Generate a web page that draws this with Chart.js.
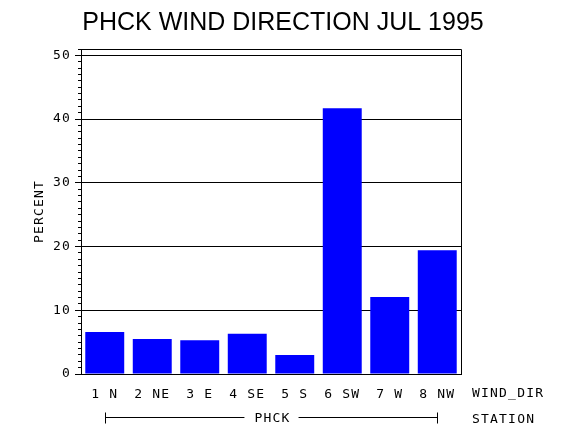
<!DOCTYPE html>
<html>
<head>
<meta charset="utf-8">
<script src="https://cdn.jsdelivr.net/npm/chart.js@4.4.1/dist/chart.umd.min.js"></script>
<style>
  body { margin: 0; background: #fff; }
</style>
</head>
<body>
<canvas id="windChart" width="570" height="430"></canvas>
<script>
const categories = ["1 N", "2 NE", "3 E", "4 SE", "5 S", "6 SW", "7 W", "8 NW"];
const percent = [6.6, 5.5, 5.3, 6.3, 3.0, 41.7, 12.1, 19.4];
const yMin = 0;
const yMax = 51;
const yMajorStep = 10;
const yMinorStep = 1;
const station = "PHCK";
const title = "PHCK WIND DIRECTION JUL 1995";

const mono = "'DejaVu Sans Mono', monospace";
const monoSize = 13;
Chart.defaults.color = "#000";

// stretch the plotter-looking text a bit
const spacing = {
  id: "spacing",
  beforeDraw(chart) {
    chart.ctx.letterSpacing = "1.2px";
  },
};

const decor = {
  id: "decor",
  afterDraw(chart) {
    const ctx = chart.ctx;
    const a = chart.chartArea;
    const x = chart.scales.x;
    ctx.save();
    ctx.strokeStyle = "#000";
    ctx.lineWidth = 1;
    ctx.beginPath();
    ctx.moveTo(a.left, a.top + 0.5);
    ctx.lineTo(a.right + 0.5, a.top + 0.5);
    ctx.lineTo(a.right + 0.5, a.bottom);
    ctx.stroke();

    ctx.fillStyle = "#000";
    ctx.font = monoSize + "px " + mono;
    ctx.letterSpacing = "1.2px";
    ctx.textBaseline = "middle";
    ctx.textAlign = "left";
    ctx.fillText("WIND_DIR", a.right + 11, a.bottom + 20);
    ctx.fillText("STATION", a.right + 11, a.bottom + 46);

    // station bracket under the categories
    const x1 = Math.round(x.getPixelForValue(0)) + 0.5;
    const x2 = Math.round(x.getPixelForValue(categories.length - 1)) + 0.5;
    const yb = a.bottom + 43.5;
    const mid = (x1 + x2) / 2;
    const half = ctx.measureText(station).width / 2;
    ctx.textAlign = "center";
    ctx.fillText(station, mid + 1, yb + 1);
    ctx.beginPath();
    ctx.moveTo(x1, yb);
    ctx.lineTo(mid - half - 9, yb);
    ctx.moveTo(mid + half + 9, yb);
    ctx.lineTo(x2, yb);
    ctx.moveTo(x1, yb - 5);
    ctx.lineTo(x1, yb + 6);
    ctx.moveTo(x2, yb - 5);
    ctx.lineTo(x2, yb + 6);
    ctx.stroke();

    ctx.letterSpacing = "0px";
    ctx.font = "25px 'Liberation Sans', Arial, sans-serif";
    ctx.textBaseline = "alphabetic";
    ctx.textAlign = "center";
    ctx.fillText(title, 283, 30);
    ctx.restore();
  },
};

new Chart(document.getElementById("windChart").getContext("2d"), {
  type: "bar",
  data: {
    labels: categories,
    datasets: [
      {
        label: "PERCENT",
        data: percent,
        backgroundColor: "#0000ff",
        borderWidth: 0,
        barPercentage: 0.82,
        categoryPercentage: 1,
      },
    ],
  },
  options: {
    responsive: false,
    animation: false,
    layout: {
      padding: { left: 0, right: 109, top: 49, bottom: 0 },
    },
    plugins: {
      legend: { display: false },
      title: { display: false },
      tooltip: { enabled: false },
    },
    scales: {
      x: {
        grid: { display: false, drawTicks: false },
        border: { color: "#000", width: 1 },
        ticks: { font: { family: mono, size: monoSize }, padding: 13, maxRotation: 0, autoSkip: false },
        afterFit(s) { s.height = 56; },
      },
      y: {
        position: "left",
        weight: 1,
        z: 1,
        min: yMin,
        max: yMax,
        grid: { color: "#000", lineWidth: 1, tickLength: 6, tickColor: "#000" },
        border: { color: "#000", width: 1 },
        ticks: { stepSize: yMajorStep, includeBounds: false, padding: 4, font: { family: mono, size: monoSize } },
        title: { display: true, text: "PERCENT", font: { family: mono, size: monoSize }, padding: { top: 32, bottom: 0 } },
        afterFit(s) { s.width = 81; },
      },
      yMinor: {
        position: "left",
        weight: 0,
        z: 1,
        min: yMin,
        max: yMax,
        grid: { drawOnChartArea: false, tickLength: 3, tickColor: "#000" },
        border: { display: false },
        ticks: { stepSize: yMinorStep, display: false },
        afterFit(s) { s.width = 0; },
      },
    },
  },
  plugins: [spacing, decor],
});
</script>
</body>
</html>
